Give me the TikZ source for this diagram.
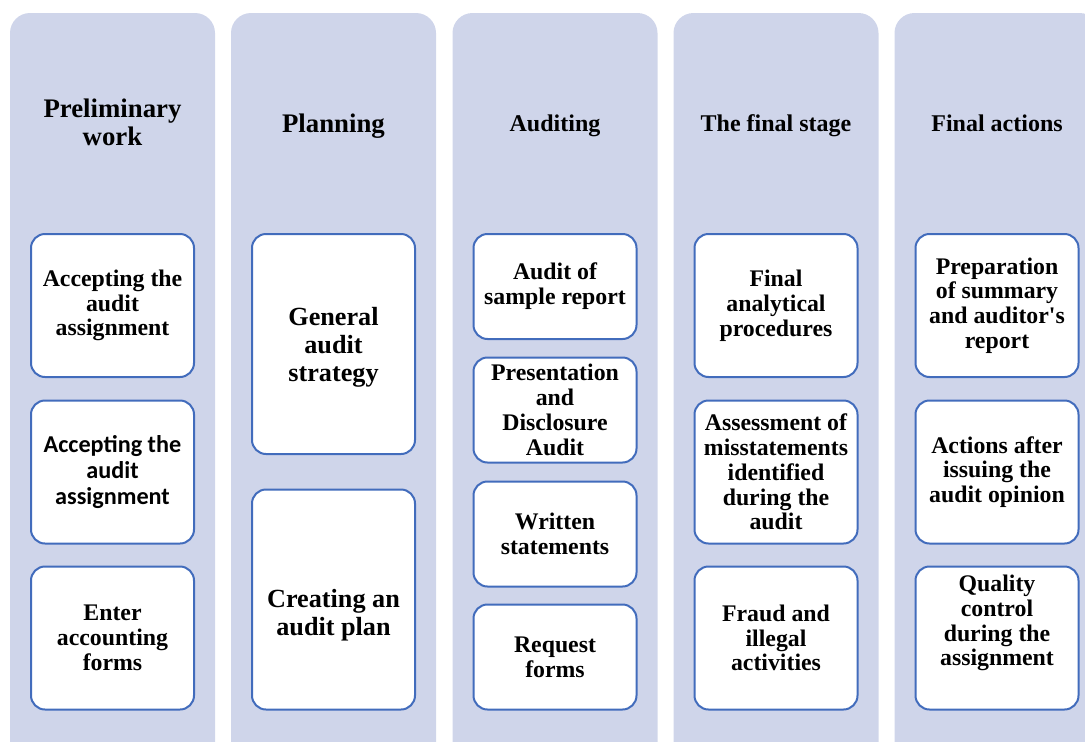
\documentclass[tikz,border=0pt]{standalone}
\usepackage{fontspec}
\setmainfont{Liberation Serif}
\newfontfamily\kotaksans{Carlito}
\definecolor{isilajur}{RGB}{207,213,234}
\definecolor{garisbiru}{RGB}{66,108,188}

\begin{document}
\begin{tikzpicture}[x=1pt,y=-1pt,
      lajur/.style={fill=isilajur,rounded corners=20pt,inner sep=0pt,
        minimum width=205pt,minimum height=760pt},
      judul/.style={align=center,anchor=base,font=\fontsize{24}{28}\selectfont\bfseries},
      besar/.style={font=\fontsize{26.8}{28}\selectfont\bfseries},
      kotak/.style={draw=garisbiru,fill=white,line width=2pt,rounded corners=14pt,
        align=center,inner sep=2pt,minimum width=163pt,
        font=\fontsize{23.8}{24.8}\selectfont\bfseries},
      isi/.style={align=center,inner sep=0pt,font=\fontsize{26.2}{28}\selectfont\bfseries},
      tinggi/.style={minimum height=#1}]
    \useasboundingbox (0,0) rectangle (1085,742);

    % Lajur latar
    \node[lajur] (l1) at (112.5,393) {};
    \node[lajur] (l2) at (333.5,393) {};
    \node[lajur] (l3) at (555,393) {};
    \node[lajur] (l4) at (776,393) {};
    \node[lajur] (l5) at (997,393) {};

    % Judul lajur
    \node[judul,besar] (j1) at (112.5,145) {Preliminary\\work};
    \node[judul,besar] (j2) at (333.5,132) {Planning};
    \node[judul] (j3) at (555,131) {Auditing};
    \node[judul] (j4) at (776,131) {The final stage};
    \node[judul] (j5) at (997,131) {Final actions};

    % Lajur 1
    \node[kotak,tinggi=143pt] (a1) at (112.5,305.5) {Accepting the\\audit\\assignment};
    \node[kotak,tinggi=143pt,font=\kotaksans\fontsize{24.2}{26}\selectfont\bfseries] (a2) at (112.5,472) {Accepting the\\audit\\assignment};
    \node[kotak,tinggi=143pt] (a3) at (112.5,638) {Enter\\accounting\\forms};

    % Lajur 2
    \node[kotak,tinggi=220pt] (b1) at (333.5,344) {};
    \node[isi] (b1t) at (333.5,347) {General\\audit\\strategy};
    \node[kotak,tinggi=220pt] (b2) at (333.5,599.5) {};
    \node[isi] (b2t) at (333.5,615) {Creating an\\audit plan};

    % Lajur 3
    \node[kotak,tinggi=105pt] (c1) at (555,286.5) {Audit of\\sample report};
    \node[kotak,tinggi=105pt] (c2) at (555,410) {Presentation\\and\\Disclosure\\Audit};
    \node[kotak,tinggi=105pt] (c3) at (555,534) {Written\\statements};
    \node[kotak,tinggi=105pt] (c4) at (555,657) {Request\\forms};

    % Lajur 4
    \node[kotak,tinggi=143pt] (d1) at (776,305.5) {Final\\analytical\\procedures};
    \node[kotak,tinggi=143pt] (d2) at (776,472) {Assessment of\\misstatements\\identified\\during the\\audit};
    \node[kotak,tinggi=143pt] (d3) at (776,638) {Fraud and\\illegal\\activities};

    % Lajur 5
    \node[kotak,tinggi=143pt] (e1) at (997,305.5) {Preparation\\of summary\\and auditor\textquotesingle s\\report};
    \node[kotak,tinggi=143pt] (e2) at (997,472) {Actions after\\issuing the\\audit opinion};
    \node[kotak,tinggi=143pt] (e3) at (997,638) {};
    \node[isi,font=\fontsize{23.8}{24.8}\selectfont\bfseries] (e3t) at (997,623) {Quality\\control\\during the\\assignment};
  \end{tikzpicture}
\end{document}
